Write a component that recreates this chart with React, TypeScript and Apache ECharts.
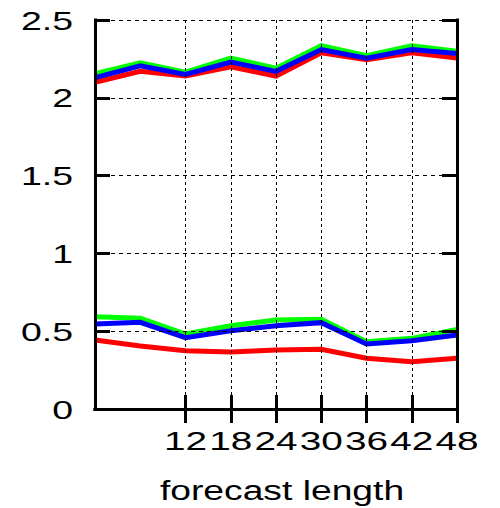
import React, { useEffect, useRef } from "react";
import * as echarts from "echarts";

const hours = ["0", "6", "12", "18", "24", "30", "36", "42", "48"];
const xTickLabels = ["12", "18", "24", "30", "36", "42", "48"];
const yTickValues = [0, 0.5, 1, 1.5, 2, 2.5];
const yTickLabels = ["0", "0.5", "1", "1.5", "2", "2.5"];
const xAxisTitle = "forecast length";

const redUpper = [2.1, 2.17, 2.14, 2.2, 2.14, 2.29, 2.245, 2.29, 2.255];
const greenUpper = [2.155, 2.225, 2.165, 2.255, 2.19, 2.335, 2.27, 2.335, 2.3];
const blueUpper = [2.13, 2.205, 2.15, 2.23, 2.17, 2.31, 2.255, 2.31, 2.285];

const redLower = [0.443, 0.405, 0.375, 0.366, 0.379, 0.384, 0.326, 0.304, 0.326];
const greenLower = [0.593, 0.583, 0.482, 0.535, 0.572, 0.576, 0.433, 0.454, 0.512];
const blueLower = [0.546, 0.557, 0.458, 0.503, 0.535, 0.555, 0.418, 0.439, 0.476];

const FONT = "'Liberation Sans', Arial, Helvetica, sans-serif";

export default function App() {
  const ref = useRef<HTMLDivElement>(null);

  useEffect(() => {
    document.body.style.margin = "0";
    const chart = echarts.init(ref.current!, null, { renderer: "svg" });

    const axisLine = { show: true, lineStyle: { color: "#000", width: 3, cap: "square" } };
    const xTick = {
      show: true,
      inside: true,
      length: 14,
      interval: (i: number) => i >= 2,
      lineStyle: { color: "#000", width: 3 },
    };
    const yTick = { show: true, inside: true, length: 15, lineStyle: { color: "#000", width: 3 } };

    const line = (name: string, data: number[], color: string, z: number) => ({
      name,
      type: "line",
      data,
      symbol: "none",
      z,
      lineStyle: { color, width: 5, join: "miter" },
      itemStyle: { color },
    });

    chart.setOption({
      animation: false,
      backgroundColor: "#fff",
      grid: { left: 95, right: 43, top: 20, bottom: 99, containLabel: false },
      xAxis: [
        {
          type: "category",
          data: hours,
          boundaryGap: false,
          position: "bottom",
          axisLine,
          axisTick: xTick,
          axisLabel: { show: false },
          splitLine: {
            show: true,
            interval: (i: number) => i >= 2 && i < 8,
            lineStyle: { color: "#000", width: 1, type: [3, 3] },
          },
          z: 5,
        },
        {
          type: "category",
          data: hours,
          boundaryGap: false,
          position: "top",
          axisLine,
          axisTick: xTick,
          axisLabel: { show: false },
          splitLine: { show: false },
          z: 5,
        },
      ],
      yAxis: [
        {
          type: "value",
          min: 0,
          max: 2.5,
          interval: 0.5,
          position: "left",
          axisLine,
          axisTick: yTick,
          axisLabel: { show: false },
          splitLine: { show: true, lineStyle: { color: "#000", width: 1, type: [4, 4] } },
          z: 5,
        },
        {
          type: "value",
          min: 0,
          max: 2.5,
          interval: 0.5,
          position: "right",
          axisLine,
          axisTick: yTick,
          axisLabel: { show: false },
          splitLine: { show: false },
          z: 5,
        },
      ],
      series: [
        line("red (upper)", redUpper, "#ff0000", 2),
        line("green (upper)", greenUpper, "#00ff00", 3),
        line("blue (upper)", blueUpper, "#0000ff", 4),
        line("red (lower)", redLower, "#ff0000", 2),
        line("green (lower)", greenLower, "#00ff00", 3),
        line("blue (lower)", blueLower, "#0000ff", 4),
      ],
    });

    const px = (cat: string) => chart.convertToPixel({ xAxisIndex: 0 }, hours.indexOf(cat)) as number;
    const py = (v: number) => chart.convertToPixel({ yAxisIndex: 0 }, v) as number;
    const left = px(hours[0]);
    const right = px(hours[hours.length - 1]);
    const bottom = py(0);

    const elements: any[] = [];
    xTickLabels.forEach((l) => {
      elements.push({
        type: "text",
        x: px(l),
        y: bottom + 32,
        scaleX: 1.55,
        style: {
          text: l,
          fontSize: 25,
          fontFamily: FONT,
          fill: "#000",
          align: "center",
          verticalAlign: "middle",
        },
      });
    });
    yTickValues.forEach((v, i) => {
      elements.push({
        type: "text",
        x: left - 22,
        y: py(v) + 1,
        scaleX: 1.5,
        style: {
          text: yTickLabels[i],
          fontSize: 25,
          fontFamily: FONT,
          fill: "#000",
          align: "right",
          verticalAlign: "middle",
        },
      });
    });
    elements.push({
      type: "text",
      x: (left + right) / 2 + 6,
      y: bottom + 81,
      scaleX: 1.33,
      style: {
        text: xAxisTitle,
        fontSize: 28,
        fontFamily: FONT,
        fill: "#000",
        align: "center",
        verticalAlign: "middle",
      },
    });
    chart.setOption({ graphic: { elements } });

    return () => chart.dispose();
  }, []);

  return (
    <div
      ref={ref}
      style={{ position: "fixed", left: 0, top: 0, width: 500, height: 508, background: "#fff" }}
    />
  );
}
